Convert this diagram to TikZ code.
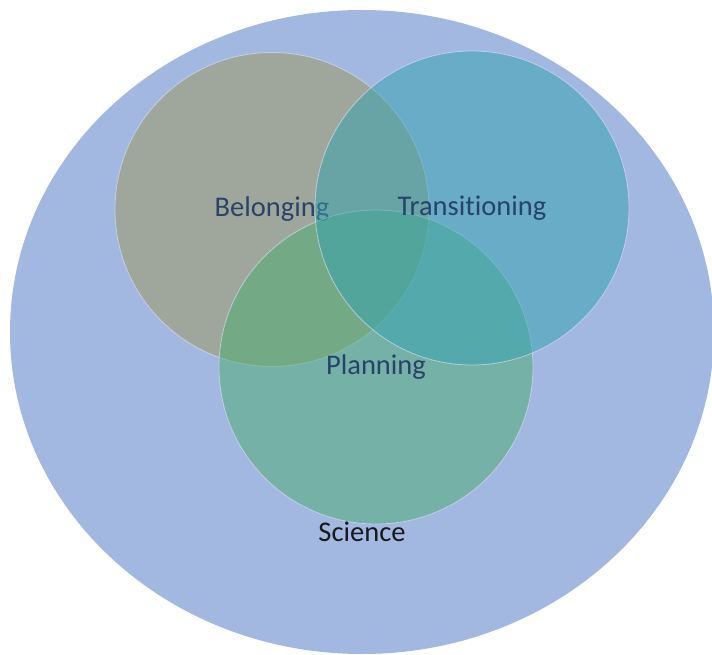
\documentclass[tikz,border=0pt]{standalone}
\usepackage{fontspec}
\setmainfont{Carlito}[Ligatures=NoCommon]
\usetikzlibrary{positioning, shapes.geometric}

\definecolor{sciblue}{HTML}{A2B8E0}
\definecolor{belongfill}{HTML}{9E985C}
\definecolor{transfill}{HTML}{32A2B0}
\definecolor{planfill}{HTML}{4AAC70}
\definecolor{ringline}{HTML}{D2DCF0}
\definecolor{labelnavy}{HTML}{1F3864}

\begin{document}
\begin{tikzpicture}[
        x = 1pt,
        y = 1pt,
        every node/.style = {font = \fontsize{28.5}{34}\selectfont, inner sep = 0pt},
        venn/.style = {circle, draw = ringline, draw opacity = 0.7, line width = 0.8pt,
          minimum size = 314pt, fill opacity = 0.5, text opacity = 0.9, text = labelnavy}
      ]
      \useasboundingbox (0,0) rectangle (712,654);
      % outer set
      \node[ellipse, fill = sciblue, minimum width = 704pt, minimum height = 644pt] (science) at (362,322) {};
      % the three circles
      \node[venn, fill = belongfill] (belonging) at (272,444.5) {Belonging};
      \node[venn, fill = planfill] (planning) at (376,287) {Planning};
      \node[venn, fill = transfill] (transitioning) at (472,446) {Transitioning};
      \node[anchor = base, text = black!90] (science label) at (362,113) {Science};
    \end{tikzpicture}
\end{document}
